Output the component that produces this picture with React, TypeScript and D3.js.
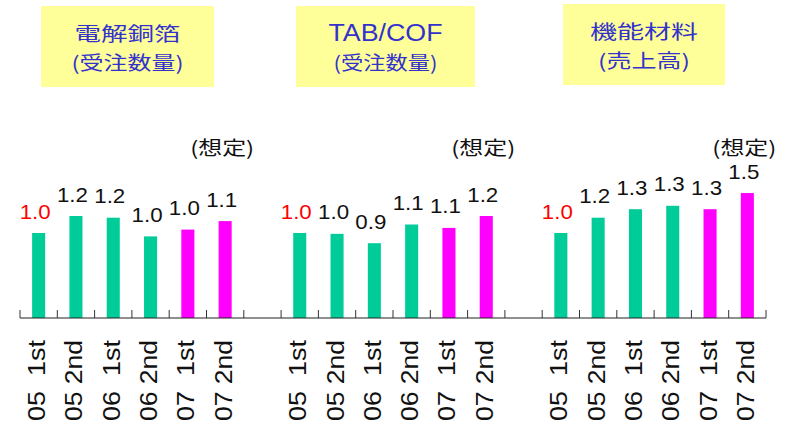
import React from "react";
import * as d3 from "d3";

const categories = ["05  1st", "05 2nd", "06  1st", "06 2nd", "07  1st", "07 2nd"];
const titleLine1 = ["電解銅箔", "TAB/COF", "機能材料"];
const titleLine2 = ["(受注数量)", "(受注数量)", "(売上高)"];
const copperFoil = [1.0, 1.2, 1.18, 0.96, 1.04, 1.14];
const tabCof = [1.0, 0.99, 0.88, 1.1, 1.06, 1.2];
const functionalMaterials = [1.0, 1.18, 1.28, 1.32, 1.28, 1.47];
const forecastFrom = 4; // index of first forecast period
const forecastNote = "(想定)";

const panels = [copperFoil, tabCof, functionalMaterials];

// layout (not data)
const W = 787;
const H = 424;
const axisY = 318;
const boxes = [
  { x: 41, y: 6, w: 173, h: 81, l1Len: 106, l2Len: 112, l1Size: 19 },
  { x: 296, y: 6, w: 179, h: 81, l1Len: 114, l2Len: 104, l1Size: 23 },
  { x: 563, y: 4, w: 162, h: 81, l1Len: 108, l2Len: 92, l1Size: 19 },
];

const GREEN = "#00CC99";
const MAGENTA = "#FF00FF";
const TITLE_BLUE = "#3333CC";
const BOX_YELLOW = "#FFFF99";
const LATIN = "'Liberation Sans', Arial, sans-serif";
const CJK = "'Noto Sans CJK JP', 'Noto Sans', sans-serif";

export default function App() {
  const slots = d3.range(panels.length * 7 - 1);
  const x = d3.scaleBand<number>().domain(slots).range([20, 766]).padding(0);
  const y = d3.scaleLinear().domain([0, 2]).range([axisY, axisY - 170]);
  const step = x.step();
  const barW = step * 0.35;
  const fmt = d3.format(".1f");
  const slotOf = (p: number, i: number) => p * 7 + i;
  const center = (s: number) => (x(s) as number) + step / 2;

  const tickXs = d3.range(slots.length + 1).map((k) => 20 + k * step);

  return (
    <div style={{ position: "fixed", left: 0, top: 0 }}>
      <svg width={W} height={H} style={{ display: "block", background: "#fff" }}>
        {/* title boxes */}
        {boxes.map((b, p) => {
          const cx = b.x + b.w / 2;
          return (
            <g key={"box" + p}>
              <rect x={b.x} y={b.y} width={b.w} height={b.h} fill={BOX_YELLOW} />
              <text
                x={cx}
                y={b.y + 35}
                textAnchor="middle"
                fontFamily={p === 1 ? LATIN : CJK}
                fontSize={b.l1Size}
                fill={TITLE_BLUE}
                textLength={b.l1Len}
                lengthAdjust="spacingAndGlyphs"
              >
                {titleLine1[p]}
              </text>
              <text
                x={cx}
                y={b.y + 64}
                textAnchor="middle"
                fontFamily={CJK}
                fontSize={19}
                fill={TITLE_BLUE}
                textLength={b.l2Len}
                lengthAdjust="spacingAndGlyphs"
              >
                {titleLine2[p]}
              </text>
            </g>
          );
        })}

        {/* bars */}
        {panels.map((vals, p) =>
          vals.map((v, i) => {
            const s = slotOf(p, i);
            const cx = center(s);
            return (
              <g key={`bar${p}-${i}`}>
                <rect
                  x={cx - barW / 2}
                  y={y(v)}
                  width={barW}
                  height={axisY - y(v)}
                  fill={i >= forecastFrom ? MAGENTA : GREEN}
                />
                <text
                  x={cx - 3.5}
                  y={y(v) - 14.5}
                  textAnchor="middle"
                  fontFamily={LATIN}
                  fontSize={21}
                  fill={i === 0 ? "#FF0000" : "#111"}
                  textLength={31}
                  lengthAdjust="spacingAndGlyphs"
                >
                  {fmt(v)}
                </text>
              </g>
            );
          })
        )}

        {/* forecast notes */}
        {panels.map((_, p) => (
          <text
            key={"note" + p}
            x={center(slotOf(p, categories.length - 1)) - 3}
            y={155}
            textAnchor="middle"
            fontFamily={CJK}
            fontSize={19}
            fill="#111"
            textLength={64}
            lengthAdjust="spacingAndGlyphs"
          >
            {forecastNote}
          </text>
        ))}

        {/* axis */}
        <line x1={20} x2={766} y1={axisY} y2={axisY} stroke="#222" strokeWidth={1.2} />
        {tickXs.map((tx, k) => (
          <line key={"t" + k} x1={tx} x2={tx} y1={axisY - 8} y2={axisY} stroke="#333" strokeWidth={1} />
        ))}

        {/* category labels */}
        {panels.map((_, p) =>
          categories.map((c, i) => {
            const cx = center(slotOf(p, i)) + 6.5;
            return (
              <text
                key={`lab${p}-${i}`}
                transform={`translate(${cx},421) rotate(-90)`}
                textAnchor="start"
                fontFamily={LATIN}
                fontSize={23}
                fill="#111"
                textLength={81}
                lengthAdjust="spacingAndGlyphs"
                style={{ whiteSpace: "pre" }}
                xmlSpace="preserve"
              >
                {c}
              </text>
            );
          })
        )}
      </svg>
    </div>
  );
}
